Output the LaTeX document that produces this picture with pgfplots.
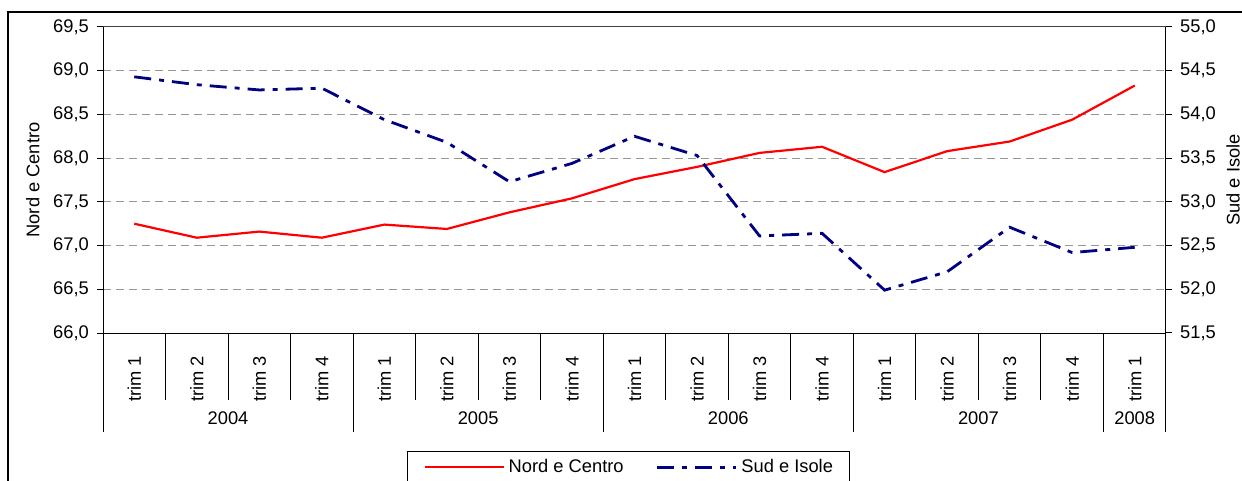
\documentclass[border=0pt]{standalone}
\usepackage{fontspec}
\setmainfont{Liberation Sans}
\usepackage{pgfplots}
\pgfplotsset{compat=1.18}
\definecolor{navyblue}{RGB}{0,0,128}
\definecolor{gridgray}{RGB}{150,150,150}
\begin{document}
\fontsize{18.3bp}{22bp}\selectfont
\begin{tikzpicture}
\useasboundingbox (0,0) rectangle (1242bp,481bp);
\draw[line width=1.3bp] (8bp,-10bp) -- (8bp,469bp) -- (1260bp,469bp);
\begin{axis}[
  at={(103bp,148bp)}, anchor=south west,
  width=1063bp, height=306bp, scale only axis,
  xmin=-0.5, xmax=16.5, ymin=66, ymax=69.5,
  axis x line*=bottom, axis y line*=left,
  axis line style={black, line width=1bp},
  xtick={0,...,16},
  xticklabels={trim 1,trim 2,trim 3,trim 4,trim 1,trim 2,trim 3,trim 4,trim 1,trim 2,trim 3,trim 4,trim 1,trim 2,trim 3,trim 4,trim 1},
  x tick style={draw=none},
  xticklabel style={rotate=90, anchor=east, inner sep=0pt},
  xticklabel shift=17bp,
  ytick={66,66.5,...,69.5},
  y tick style={black, line width=1bp},
  tick align=outside, major tick length=6bp,
  yticklabel style={anchor=east, inner sep=0pt, xshift=-8bp},
  /pgf/number format/.cd, fixed, fixed zerofill, precision=1, use comma, assume math mode=true,
  /pgfplots/.cd,
  ymajorgrids,
  major grid style={gridgray, line width=1bp, dash pattern=on 8bp off 5bp},
  ylabel={Nord e Centro},
  ylabel style={at={(axis description cs:-0.0659,0.5)}, anchor=center, inner sep=0pt},
  clip=false,
  legend columns=2,
  legend image code/.code={\draw[#1] (0bp,5.5bp) -- (79bp,5.5bp);},
  legend style={at={(axis description cs:0.2860,-0.3856)}, anchor=north west,
    draw=black, line width=1bp, inner xsep=16bp, inner ysep=8bp,
    nodes={inner sep=0pt, anchor=base west},
    /tikz/every odd column/.append style={column sep=4bp},
    /tikz/every even column/.append style={column sep=32bp}},
]
\draw[black!75, line width=1bp] (rel axis cs:0,1) -- (rel axis cs:1,1);
\addplot[red, line width=2.2bp] coordinates {
(0,67.25) (1,67.09) (2,67.16) (3,67.09) (4,67.24) (5,67.19) (6,67.38) (7,67.54)
(8,67.76) (9,67.90) (10,68.06) (11,68.13) (12,67.84) (13,68.08) (14,68.19) (15,68.44) (16,68.83)};
\addlegendentry{Nord e Centro}
\addlegendimage{navyblue, line width=2.8bp, dash pattern=on 17bp off 8bp on 5bp off 8bp}
\addlegendentry{Sud e Isole}
\pgfplotsinvokeforeach{0.5,1.5,2.5,4.5,5.5,6.5,8.5,9.5,10.5,12.5,13.5,14.5}{
  \draw[black, line width=1bp] (axis cs:#1,66) -- ([yshift=-67bp]axis cs:#1,66);
}
\pgfplotsinvokeforeach{-0.5,3.5,7.5,11.5,15.5,16.5}{
  \draw[black, line width=1bp] (axis cs:#1,66) -- ([yshift=-99bp]axis cs:#1,66);
}
\node at (axis cs:1.5,66) [yshift=-85bp] {2004};
\node at (axis cs:5.5,66) [yshift=-85bp] {2005};
\node at (axis cs:9.5,66) [yshift=-85bp] {2006};
\node at (axis cs:13.5,66) [yshift=-85bp] {2007};
\node at (axis cs:16,66) [yshift=-85bp] {2008};
\end{axis}
\begin{axis}[
  at={(103bp,148bp)}, anchor=south west,
  width=1063bp, height=306bp, scale only axis,
  xmin=-0.5, xmax=16.5, ymin=51.5, ymax=55,
  axis x line=none, axis y line*=right,
  axis line style={black, line width=1bp},
  ytick={51.5,52,...,55},
  y tick style={black, line width=1bp},
  tick align=outside, major tick length=6bp,
  yticklabel style={anchor=west, inner sep=0pt, xshift=8bp},
  /pgf/number format/.cd, fixed, fixed zerofill, precision=1, use comma, assume math mode=true,
  /pgfplots/.cd,
  ylabel={Sud e Isole},
  ylabel style={at={(axis description cs:1.0630,0.5)}, anchor=center, inner sep=0pt},
  clip=false,
]
\addplot[navyblue, line width=2.8bp, dash pattern=on 17bp off 8bp on 5bp off 8bp] coordinates {
(0,54.43) (1,54.34) (2,54.28) (3,54.30) (4,53.94) (5,53.68) (6,53.23) (7,53.44)
(8,53.75) (9,53.53) (10,52.61) (11,52.64) (12,51.99) (13,52.20) (14,52.71) (15,52.42) (16,52.48)};
\end{axis}
\end{tikzpicture}
\end{document}
